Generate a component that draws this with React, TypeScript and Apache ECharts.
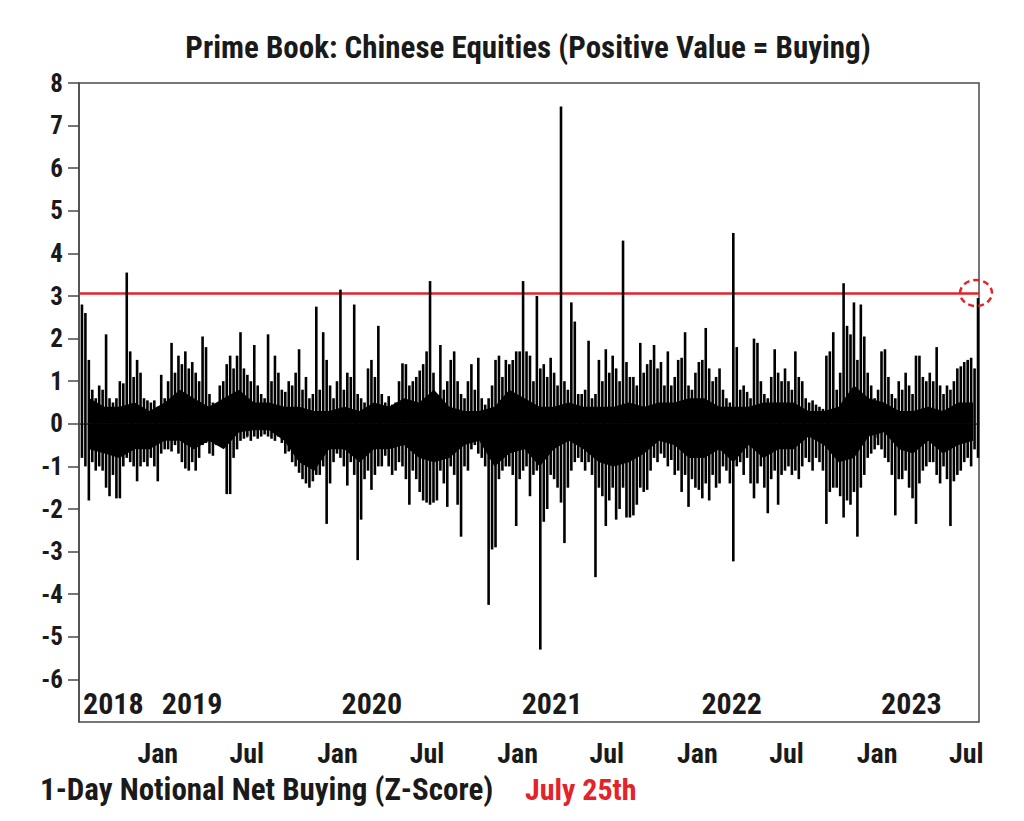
import React, { useEffect, useRef } from 'react';
import * as echarts from 'echarts';

const TITLE = 'Prime Book: Chinese Equities (Positive Value = Buying)';
const CAPTION = '1-Day Notional Net Buying (Z-Score)';
const CAPTION_DATE = 'July 25th';

const AXIS_START = '2018-07-25';
const AXIS_END = '2023-07-27';
const FIRST_WEEK = '2018-07-31';
const FIRST_MONTH = '2018-08-15';
const THRESHOLD = 3.07;

// weekly upper extent of the daily z-scores (Aug 2018 - Mar 2020)
const weekHighA = [
  2.8, 2.6, 1.5, 0.8, 0.6, 0.9, 0.8, 2.1, 0.6, 0.5,
  0.6, 1.0, 0.95, 3.55, 1.7, 1.1, 1.5, 1.2, 0.6, 0.55,
  0.5, 0.55, 0.4, 1.15, 0.6, 1.0, 1.9, 1.2, 1.6, 1.4,
  1.7, 1.3, 1.45, 1.2, 1.0, 2.05, 1.8, 0.7, 0.5, 0.45,
  0.9, 1.0, 1.4, 1.6, 1.3, 1.6, 2.15, 1.3, 1.15, 1.0,
  1.85, 0.9, 0.7, 0.6, 2.1, 1.0, 1.6, 1.2, 0.8, 0.75,
  1.0, 0.9, 1.2, 1.75, 0.8, 1.1, 0.6, 0.7, 2.75, 0.8,
  2.15, 1.5, 0.9, 0.6, 1.0, 3.15, 0.8, 1.2, 1.1, 2.8,
  0.7, 0.6, 0.5, 1.3, 1.5, 1.1, 2.3,
];
// weekly upper extent (Mar 2020 - Nov 2021)
const weekHighB = [
  0.7, 0.5, 0.65, 0.45, 0.5, 1.0, 1.42, 1.4, 0.9, 1.0,
  1.1, 1.25, 1.4, 1.7, 3.35, 1.2, 0.7, 1.85, 0.8, 1.0,
  1.5, 1.7, 1.0, 0.7, 0.6, 1.0, 1.4, 0.8, 1.55, 0.6,
  0.45, 0.6, 0.9, 1.5, 1.6, 1.1, 1.5, 1.4, 1.5, 1.7,
  1.7, 3.35, 1.7, 1.6, 1.0, 3.0, 1.3, 1.4, 1.1, 1.55,
  1.2, 0.9, 7.45, 1.0, 0.8, 2.85, 2.4, 0.7, 0.7, 0.8,
  1.95, 0.6, 0.7, 1.5, 1.0, 1.75, 1.2, 1.6, 1.3, 1.0,
  4.3, 1.45, 1.1, 1.1, 0.9, 1.9, 1.2, 1.4, 1.5, 1.85,
  1.3, 1.45, 0.9, 1.7, 0.9, 1.1, 1.5,
];
// weekly upper extent (Nov 2021 - Jul 2023)
const weekHighC = [
  1.55, 2.15, 0.9, 0.8, 1.2, 1.45, 1.5, 2.25, 1.3, 1.0,
  1.1, 1.3, 0.8, 0.6, 0.5, 4.48, 1.8, 0.8, 0.9, 0.75,
  0.6, 2.0, 1.9, 1.0, 0.7, 0.6, 1.1, 1.75, 1.2, 1.0,
  1.3, 1.0, 0.8, 1.7, 1.1, 1.0, 0.6, 0.5, 0.55, 0.45,
  0.4, 0.35, 1.6, 1.7, 2.15, 0.8, 1.2, 3.3, 2.3, 2.1,
  2.85, 1.5, 2.8, 2.05, 1.2, 0.9, 0.6, 0.8, 1.7, 1.75,
  1.1, 0.7, 0.6, 1.0, 0.8, 1.2, 0.9, 0.7, 1.6, 1.6,
  1.1, 1.0, 1.2, 1.0, 1.8, 0.9, 0.7, 0.9, 0.8, 1.0,
  1.3, 1.35, 1.45, 1.5, 1.55, 1.3, 2.95,
];
// weekly lower extent
const weekLowA = [
  -0.8, -1.0, -1.8, -0.9, -1.1, -1.0, -1.1, -1.5, -1.7, -1.2,
  -1.75, -1.75, -1.0, -0.8, -0.9, -1.0, -1.35, -1.0, -0.9, -1.0,
  -0.8, -1.0, -1.35, -0.7, -0.6, -0.6, -0.65, -0.5, -0.7, -0.9,
  -1.05, -1.1, -0.9, -1.1, -0.8, -0.5, -0.45, -0.7, -0.75, -0.5,
  -0.45, -0.5, -1.65, -1.65, -0.8, -0.6, -0.4, -0.35, -0.3, -0.4,
  -0.3, -0.35, -0.3, -0.25, -0.3, -0.35, -0.4, -0.3, -0.45, -0.7,
  -0.65, -0.9, -1.0, -1.15, -1.3, -1.4, -1.5, -1.35, -1.2, -1.2,
  -1.0, -2.35, -1.4, -0.9, -0.7, -0.8, -1.0, -1.45, -0.9, -1.2,
  -3.2, -2.25, -1.3, -1.1, -1.55, -1.2, -1.0,
];
const weekLowB = [
  -1.0, -0.75, -1.0, -1.2, -1.1, -0.9, -1.0, -1.3, -1.9, -1.1,
  -1.3, -1.6, -1.8, -1.85, -1.9, -1.85, -1.8, -1.1, -1.4, -1.95,
  -1.0, -1.2, -1.9, -2.65, -1.0, -1.1, -0.6, -0.5, -0.7, -0.8,
  -1.0, -4.25, -2.95, -2.9, -1.3, -1.1, -1.0, -1.0, -1.2, -2.4,
  -1.3, -1.1, -1.0, -1.7, -1.2, -1.1, -5.3, -2.3, -2.0, -1.2,
  -1.3, -1.5, -1.85, -2.8, -1.5, -1.1, -0.9, -0.8, -0.9, -1.1,
  -0.9, -1.2, -3.6, -1.5, -1.7, -2.4, -1.8, -1.5, -2.25, -2.0,
  -1.5, -2.2, -2.2, -2.15, -1.9, -1.5, -1.6, -1.55, -1.1, -0.8,
  -0.9, -0.7, -0.8, -1.0, -0.85, -1.2, -1.1,
];
const weekLowC = [
  -1.6, -1.2, -1.95, -1.3, -1.5, -1.55, -1.75, -1.4, -1.8, -1.2,
  -1.5, -1.4, -1.0, -1.1, -1.4, -3.23, -1.0, -0.9, -1.2, -0.8,
  -1.4, -1.75, -1.4, -1.0, -1.5, -2.1, -1.3, -1.1, -1.9, -1.2,
  -1.1, -1.0, -1.2, -1.1, -1.3, -1.0, -0.8, -0.9, -1.1, -0.8,
  -0.9, -1.1, -2.35, -1.6, -1.5, -1.5, -1.7, -2.2, -1.8, -1.9,
  -1.6, -2.65, -1.5, -1.2, -0.8, -0.7, -0.6, -0.5, -0.6, -0.8,
  -0.9, -1.2, -2.15, -1.3, -1.3, -1.1, -1.5, -1.75, -2.35, -1.4,
  -1.1, -1.0, -0.9, -0.9, -1.2, -1.4, -1.0, -1.3, -2.4, -1.35,
  -1.2, -1.1, -0.9, -0.8, -1.0, -0.6, -0.8,
];
// dense monthly core of the daily readings (Aug 2018 - Jul 2023)
const coreHigh = [
  0.6, 0.4, 0.4, 0.5, 0.3, 0.5, 0.8, 0.6, 0.4, 0.6,
  0.8, 0.5, 0.5, 0.4, 0.4, 0.3, 0.3, 0.4, 0.3, 0.5,
  0.4, 0.6, 0.5, 0.8, 0.4, 0.3, 0.3, 0.4, 0.8, 0.6,
  0.4, 0.4, 0.5, 0.4, 0.4, 0.4, 0.5, 0.4, 0.5, 0.5,
  0.6, 0.6, 0.4, 0.4, 0.4, 0.5, 0.5, 0.5, 0.3, 0.3,
  0.4, 0.9, 0.6, 0.5, 0.3, 0.3, 0.4, 0.3, 0.5, 0.5,
];
const coreLow = [
  -0.6, -0.7, -0.8, -0.6, -0.6, -0.4, -0.4, -0.6, -0.4, -0.6,
  -0.2, -0.15, -0.15, -0.4, -0.9, -1.1, -0.6, -0.6, -0.9, -0.6,
  -0.6, -0.5, -0.8, -0.9, -0.8, -0.5, -0.4, -1.0, -0.7, -0.6,
  -1.0, -0.6, -0.4, -0.6, -0.9, -1.0, -0.9, -0.7, -0.4, -0.5,
  -0.8, -0.8, -0.6, -0.9, -0.5, -0.8, -0.6, -0.6, -0.3, -0.5,
  -0.9, -0.8, -0.3, -0.2, -0.6, -0.7, -0.4, -0.7, -0.5, -0.4,
];

const xTickDates = [
  '2019-01-01', '2019-07-01', '2020-01-01', '2020-07-01', '2021-01-01',
  '2021-07-01', '2022-01-01', '2022-07-01', '2023-01-01', '2023-07-01',
];
const xTickLabels = ['Jan', 'Jul', 'Jan', 'Jul', 'Jan', 'Jul', 'Jan', 'Jul', 'Jan', 'Jul'];
const yTickValues = [-6, -5, -4, -3, -2, -1, 0, 1, 2, 3, 4, 5, 6, 7, 8];
const yearLabels = ['2018', '2019', '2020', '2021', '2022', '2023'];
const yearLabelDates = ['2018-07-25', '2019-01-01', '2020-01-01', '2021-01-01', '2022-01-01', '2023-01-01'];

const FONT = "'Roboto Condensed', 'Liberation Sans Narrow', 'DejaVu Sans Condensed', 'Arial Narrow', 'Liberation Sans', sans-serif";
const INK = '#1a1a1a';
const RED = '#e3232a';
const FRAME = '#4a4a4a';

const ts = (s: string) => {
  const [y, m, d] = s.split('-').map(Number);
  return new Date(y, m - 1, d).getTime();
};

export default function App() {
  const ref = useRef<HTMLDivElement>(null);

  useEffect(() => {
    document.body.style.margin = '0';
    document.body.style.overflow = 'hidden';
    if (!ref.current) return;
    const chart = echarts.init(ref.current, undefined, { renderer: 'svg' });

    const weekHigh = [...weekHighA, ...weekHighB, ...weekHighC];
    const weekLow = [...weekLowA, ...weekLowB, ...weekLowC];
    const [fy, fm, fd] = FIRST_WEEK.split('-').map(Number);
    const weekDates = weekHigh.map((_, i) => new Date(fy, fm - 1, fd + 7 * i).getTime());
    const [my, mm, md] = FIRST_MONTH.split('-').map(Number);
    const monthDates = coreHigh.map((_, i) => new Date(my, mm - 1 + i, md).getTime());

    const tickTs = xTickDates.map(ts);
    const axisFont = { fontFamily: FONT, fontWeight: 'bold' as const, color: INK };
    const xMin = ts(AXIS_START);
    const xMax = ts(AXIS_END);

    const coreSeries = (name: string, values: number[]) => ({
      name, type: 'line', z: 2, showSymbol: false, symbol: 'none', silent: true,
      lineStyle: { width: 0 },
      areaStyle: { color: '#000', opacity: 1, origin: 0 },
      data: monthDates.map((d, i) => [d, values[i]]),
    });

    const option: any = {
      animation: false,
      backgroundColor: '#ffffff',
      grid: {
        left: 79, top: 83, width: 900, height: 639,
        show: true, borderColor: FRAME, borderWidth: 1.5, backgroundColor: 'transparent',
      },
      xAxis: {
        type: 'value',
        min: xMin,
        max: xMax,
        axisLine: { show: true, lineStyle: { color: FRAME, width: 1.5 } },
        axisTick: { show: true, length: 14, customValues: tickTs, lineStyle: { color: FRAME, width: 1.5 } },
        axisLabel: {
          customValues: tickTs,
          margin: 17,
          fontSize: 28,
          ...axisFont,
          formatter: (v: number) => {
            const i = tickTs.indexOf(v);
            return i >= 0 ? xTickLabels[i] : '';
          },
        },
        splitLine: { show: false },
      },
      yAxis: {
        type: 'value',
        min: -7,
        max: 8,
        interval: 1,
        axisLine: { show: true, lineStyle: { color: FRAME, width: 1.5 } },
        axisTick: { show: true, length: 11, customValues: yTickValues, lineStyle: { color: FRAME, width: 1.5 } },
        axisLabel: { customValues: yTickValues, margin: 16, fontSize: 25, ...axisFont, formatter: (v: number) => String(v) },
        splitLine: { show: false },
      },
      series: [
        {
          ...coreSeries('core+', coreHigh),
          markLine: {
            z: 1, silent: true, symbol: ['none', 'none'],
            label: { show: false },
            lineStyle: { color: RED, width: 2.5, type: 'solid' },
            data: [{ yAxis: THRESHOLD }],
          },
        },
        coreSeries('core-', coreLow),
        {
          name: 'high', type: 'bar', stack: 'week', barWidth: 2.6, z: 3,
          itemStyle: { color: '#000' }, data: weekDates.map((d, i) => [d, weekHigh[i]]),
        },
        {
          name: 'low', type: 'bar', stack: 'week', barWidth: 2.6, z: 3,
          itemStyle: { color: '#000' }, data: weekDates.map((d, i) => [d, weekLow[i]]),
        },
      ],
    };
    chart.setOption(option);

    const lastDate = weekDates[weekDates.length - 1];
    const circle = chart.convertToPixel({ xAxisIndex: 0, yAxisIndex: 0 }, [lastDate, THRESHOLD]) as number[];
    const baseY = (chart.convertToPixel({ yAxisIndex: 0 }, -7) as number) - 19;
    const textStyle = (size: number, color: string) => ({
      fill: color, fontSize: size, fontWeight: 'bold', fontFamily: FONT,
      textVerticalAlign: 'middle', verticalAlign: 'middle',
    });
    const graphic: any[] = [
      {
        type: 'text', x: 528, y: 47, z: 50,
        style: { text: TITLE, textAlign: 'center', ...textStyle(31, INK) },
      },
      {
        type: 'text', x: 40, y: 789, z: 50,
        style: { text: CAPTION, textAlign: 'left', ...textStyle(31, INK) },
      },
      {
        type: 'text', x: 525, y: 789, z: 50,
        style: { text: CAPTION_DATE, textAlign: 'left', ...textStyle(30, RED) },
      },
      {
        type: 'ellipse', z: 60,
        shape: { cx: circle[0] - 2, cy: circle[1], rx: 16, ry: 13 },
        style: { fill: 'none', stroke: RED, lineWidth: 2.5, lineDash: [6, 4] },
      },
      ...yearLabels.map((t, i) => {
        const px = chart.convertToPixel({ xAxisIndex: 0 }, ts(yearLabelDates[i])) as number;
        return {
          type: 'text', x: px + 4, y: baseY, z: 50,
          style: { text: t, textAlign: 'left', ...textStyle(30, INK) },
        };
      }),
    ];
    chart.setOption({ graphic });

    return () => chart.dispose();
  }, []);

  return <div ref={ref} style={{ width: 1024, height: 821 }} />;
}
